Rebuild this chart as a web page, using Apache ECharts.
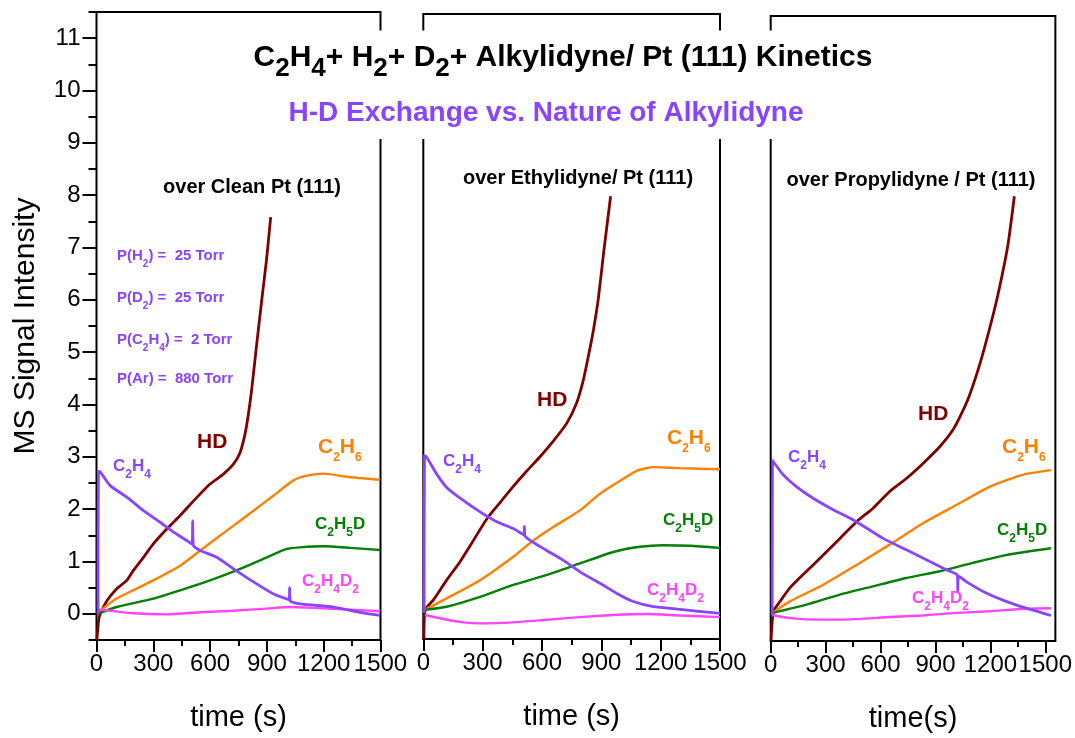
<!DOCTYPE html>
<html><head><meta charset="utf-8">
<script src="https://cdn.jsdelivr.net/npm/echarts@6/dist/echarts.min.js"></script>
<style>html,body{margin:0;padding:0;background:#fff}#c{width:1075px;height:738px}</style>
</head><body><div id="c"></div>
<script>
const FONT = '"Liberation Sans", Arial, Helvetica, sans-serif';

// ---- tick labels ----
const xTicks = [0, 300, 600, 900, 1200, 1500];
const xMinor = [150, 450, 750, 1050, 1350];
const yTicks = [0, 1, 2, 3, 4, 5, 6, 7, 8, 9, 10, 11];
const yMinor = [-0.5, 0.5, 1.5, 2.5, 3.5, 4.5, 5.5, 6.5, 7.5, 8.5, 9.5, 10.5, 11.5];
const xMax = [1500, 1500, 1555];

// ---- texts ----
const mainTitle = 'C_2H_4+ H_2+ D_2+ Alkylidyne/ Pt (111) Kinetics';
const subTitle = 'H-D Exchange vs. Nature of Alkylidyne';
const panelTitles = ['over Clean Pt (111)', 'over Ethylidyne/ Pt (111)', 'over Propylidyne / Pt (111)'];
const xNames = ['time (s)', 'time (s)', 'time(s)'];
const yName = 'MS Signal Intensity';
const conditions = ['P(H_2) =  25 Torr', 'P(D_2) =  25 Torr', 'P(C_2H_4) =  2 Torr', 'P(Ar) =  880 Torr'];
const species = ['HD', 'C_2H_6', 'C_2H_5D', 'C_2H_4', 'C_2H_4D_2'];
const speciesColors = ['#800000', '#FF8000', '#008000', '#8844FF', '#FF44FF'];

// ---- panel 1: clean Pt(111) ----
const p1HD = [[2,-0.5],[12,-0.1],[20,0],[55,0.25],[107,0.48],[160,0.64],[195,0.83],[248,1.08],[301,1.34],[371,1.62],[442,1.88],[529,2.22],[600,2.48],[670,2.67],[723,2.86],[758,3.08],[784,3.43],[802,3.81],[820,4.3],[846,5.15],[872,5.97],[899,6.8],[920,7.58]];
const p1C2H6 = [[5,0],[20,0.06],[100,0.28],[195,0.45],[300,0.64],[442,0.92],[548,1.21],[688,1.59],[829,1.97],[935,2.26],[1040,2.55],[1111,2.64],[1200,2.68],[1322,2.62],[1498,2.56]];
const p1C2H5D = [[5,0],[107,0.13],[300,0.29],[442,0.45],[600,0.64],[759,0.86],[900,1.08],[1005,1.24],[1075,1.27],[1200,1.29],[1340,1.26],[1498,1.22]];
const p1C2H4 = [[8,0],[10,2.72],[20,2.71],[72,2.45],[160,2.23],[248,1.97],[336,1.75],[407,1.56],[477,1.40],[505,1.33],[508,1.78],[511,1.31],[548,1.21],[635,1.08],[724,0.86],[829,0.61],[935,0.38],[1018,0.27],[1020,0.5],[1023,0.25],[1075,0.19],[1252,0.13],[1392,0.03],[1498,-0.03]];
const p1C2H4D2 = [[10,0.08],[72,0.06],[195,0.01],[371,-0.01],[548,0.03],[724,0.06],[900,0.10],[1023,0.13],[1164,0.11],[1340,0.08],[1498,0.05]];

// ---- panel 2: ethylidyne ----
const p2HD = [[3,-0.5],[10,0.06],[51,0.25],[118,0.63],[185,0.98],[253,1.39],[320,1.8],[388,2.12],[455,2.43],[522,2.72],[590,3.0],[657,3.3],[725,3.64],[775,4.03],[809,4.47],[834,4.92],[860,5.43],[885,6.04],[914,6.99],[947,8.0]];
const p2C2H6 = [[8,0.06],[118,0.28],[287,0.63],[455,1.08],[556,1.39],[657,1.65],[792,1.97],[893,2.29],[995,2.54],[1079,2.73],[1163,2.8],[1298,2.78],[1500,2.76]];
const p2C2H5D = [[8,0.06],[118,0.12],[287,0.31],[455,0.54],[624,0.73],[792,0.95],[961,1.17],[1096,1.27],[1213,1.3],[1348,1.29],[1500,1.25]];
const p2C2H4 = [[4,0],[6,3.02],[17,2.99],[67,2.67],[118,2.41],[202,2.16],[287,1.94],[371,1.75],[455,1.62],[509,1.5],[511,1.66],[514,1.48],[624,1.2],[708,1.01],[792,0.79],[893,0.57],[995,0.34],[1062,0.22],[1163,0.12],[1298,0.07],[1500,-0.01]];
const p2C2H4D2 = [[8,-0.04],[118,-0.13],[202,-0.18],[287,-0.2],[455,-0.18],[624,-0.13],[792,-0.08],[961,-0.04],[1129,-0.02],[1298,-0.05],[1500,-0.08]];

// ---- panel 3: propylidyne ----
const p3HD = [[2,-0.5],[15,0.07],[51,0.26],[105,0.52],[196,0.84],[287,1.15],[378,1.47],[469,1.79],[559,2.05],[650,2.37],[741,2.62],[832,2.91],[923,3.23],[995,3.55],[1040,3.85],[1086,4.22],[1146,4.86],[1195,5.49],[1240,6.13],[1295,7.09],[1331,8.04]];
const p3C2H6 = [[10,0.04],[105,0.26],[287,0.58],[469,0.96],[650,1.35],[832,1.76],[1013,2.11],[1195,2.46],[1376,2.69],[1531,2.78]];
const p3C2H5D = [[10,0.04],[196,0.2],[378,0.39],[559,0.55],[741,0.71],[923,0.84],[1104,1.0],[1286,1.15],[1531,1.28]];
const p3C2H4 = [[8,0],[10,2.97],[15,2.94],[69,2.69],[142,2.46],[232,2.24],[341,2.02],[432,1.86],[523,1.67],[614,1.47],[741,1.25],[850,1.06],[959,0.87],[1020,0.76],[1022,0.45],[1025,0.75],[1068,0.64],[1177,0.42],[1286,0.26],[1395,0.13],[1531,-0.01]];
const p3C2H4D2 = [[8,0.0],[105,-0.06],[287,-0.09],[469,-0.08],[650,-0.04],[832,-0.01],[1013,0.04],[1195,0.07],[1376,0.12],[1531,0.13]];

const panels = [
  [p1HD, p1C2H6, p1C2H5D, p1C2H4, p1C2H4D2],
  [p2HD, p2C2H6, p2C2H5D, p2C2H4, p2C2H4D2],
  [p3HD, p3C2H6, p3C2H5D, p3C2H4, p3C2H4D2]
];

// ---- layout ----
const grids = [
  {left: 96.5, top: 12, width: 284, height: 628},
  {left: 423.3, top: 14, width: 296.7, height: 625},
  {left: 770.7, top: 16, width: 285.3, height: 627}
];
const panelTitlePos = [[252, 187], [578, 178], [911, 180]];
const condPos = [[117, 256], [117, 297.5], [117, 339.5], [117, 378.5]];
const labelPos = [
  [[197, 442.5], [318, 447.5], [315, 524], [113, 466], [302, 581]],
  [[537, 400], [667, 438], [663, 520], [443, 461], [647, 590]],
  [[918, 414], [1002, 447], [997, 530], [788, 457], [912, 598]]
];
const labelFont = [21, 21, 17, 17, 17];
const lineWidths = [2.8, 2.4, 2.4, 2.8, 2.4];

function toRich(str) {
  return str.split(/(_\d)/).filter(s => s).map(s => s[0] === '_' ? '{s|' + s.slice(1) + '}' : '{m|' + s + '}').join('');
}
function richText(str, x, y, F, S, H, fill, align) {
  return {
    type: 'text', x: x, y: y, z: 11,
    style: {
      text: toRich(str), fill: fill, align: align, verticalAlign: 'middle',
      fontFamily: FONT, fontWeight: 'bold', fontSize: F,
      rich: {
        m: {fontSize: F, lineHeight: H, fontWeight: 'bold', fontFamily: FONT, fill: fill},
        s: {fontSize: S, lineHeight: S, verticalAlign: 'bottom', fontWeight: 'bold', fontFamily: FONT, fill: fill}
      }
    }
  };
}

const xAxes = [], yAxes = [], series = [];
grids.forEach((g, p) => {
  xAxes.push({
    gridIndex: p, type: 'value', min: 0, max: xMax[p],
    axisLine: {show: false, onZero: false},
    axisTick: {show: true, customValues: xTicks, length: 12, lineStyle: {color: '#000', width: 2}},
    axisLabel: {customValues: xTicks, fontSize: 24, color: '#000', fontFamily: FONT, margin: 12,
      formatter: v => String(v), showMinLabel: true, showMaxLabel: true, hideOverlap: false},
    splitLine: {show: false},
    name: xNames[p], nameLocation: 'middle', nameGap: 63,
    nameTextStyle: {fontSize: 29, color: '#000', fontFamily: FONT}
  });
  xAxes.push({
    gridIndex: p, type: 'value', min: 0, max: xMax[p], position: 'bottom',
    axisLine: {show: false, onZero: false},
    axisTick: {show: true, customValues: xMinor, length: 6, lineStyle: {color: '#000', width: 2}},
    axisLabel: {show: false}, splitLine: {show: false}
  });
  yAxes.push({
    gridIndex: p, type: 'value', min: -0.5, max: 11.5,
    axisLine: {show: false, onZero: false},
    axisTick: {show: p === 0, customValues: yTicks, length: 14, lineStyle: {color: '#000', width: 2}},
    axisLabel: {show: p === 0, customValues: yTicks, fontSize: 24, color: '#000', fontFamily: FONT, margin: 16,
      formatter: v => String(v), showMinLabel: true, showMaxLabel: true},
    splitLine: {show: false},
    name: p === 0 ? yName : '', nameLocation: 'middle', nameGap: 56,
    nameTextStyle: {fontSize: 30, color: '#000', fontFamily: FONT}
  });
  yAxes.push({
    gridIndex: p, type: 'value', min: -0.5, max: 11.5, position: 'left',
    axisLine: {show: false, onZero: false},
    axisTick: {show: p === 0, customValues: yMinor, length: 8, lineStyle: {color: '#000', width: 2}},
    axisLabel: {show: false}, splitLine: {show: false}
  });
  panels[p].forEach((d, k) => {
    series.push({
      type: 'line', xAxisIndex: 2 * p, yAxisIndex: 2 * p, data: d,
      showSymbol: false, symbol: 'none', smooth: 0.2,
      lineStyle: {color: speciesColors[k], width: lineWidths[k]}, z: 3 + (k === 3 ? 1 : 0)
    });
  });
});

const graphics = [
  {type: 'rect', z: 10, shape: {x: 236, y: 30.5, width: 654, height: 108.5}, style: {fill: '#fff'}},
  richText(mainTitle, 563, 58, 30, 26, 48, '#000', 'center'),
  {type: 'text', x: 546, y: 113, z: 11, style: {text: subTitle, fill: '#8844FF', align: 'center', verticalAlign: 'middle', fontFamily: FONT, fontWeight: 'bold', fontSize: 28}}
];
panelTitles.forEach((t, p) => {
  graphics.push({type: 'text', x: panelTitlePos[p][0], y: panelTitlePos[p][1], z: 11,
    style: {text: t, fill: '#000', align: 'center', verticalAlign: 'middle', fontFamily: FONT, fontWeight: 'bold', fontSize: 20}});
});
conditions.forEach((t, i) => {
  graphics.push(richText(t, condPos[i][0], condPos[i][1], 15, 10, 27, '#8844FF', 'left'));
});
labelPos.forEach((pos, p) => {
  species.forEach((s, k) => {
    const F = labelFont[k];
    graphics.push(richText(s, pos[k][0], pos[k][1], F, 12, F === 21 ? 33 : 29, speciesColors[k], 'left'));
  });
});

const chart = echarts.init(document.getElementById('c'), null, {renderer: 'canvas'});
chart.setOption({
  animation: false,
  backgroundColor: '#fff',
  grid: grids.map(g => Object.assign({show: true, borderColor: '#000', borderWidth: 2, backgroundColor: 'transparent', containLabel: false}, g)),
  xAxis: xAxes,
  yAxis: yAxes,
  series: series,
  graphic: graphics
});
</script>
</body></html>
